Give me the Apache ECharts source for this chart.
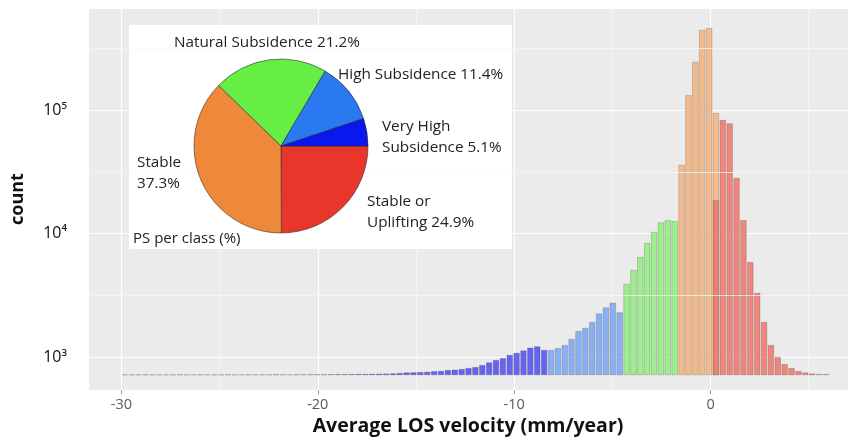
<!DOCTYPE html>
<html>
<head>
<meta charset="utf-8">
<script src="https://cdn.jsdelivr.net/npm/echarts@6/dist/echarts.min.js"></script>
<style>
  html, body { margin: 0; padding: 0; background: #ffffff; }
  #chart { width: 853px; height: 439px; }
</style>
</head>
<body>
<div id="chart"></div>
<script>
// Histogram bins of average LOS velocity (mm/year)
const BIN_START = -30;
const BIN_WIDTH = 0.35;

// Point counts per bin, one array per PS class (first bin index alongside)
const veryHighStart = 0;
const veryHighCounts = [
  722, 721, 722, 723, 721, 722, 722, 721, 723, 722,
  722, 723, 722, 721, 722, 723, 722, 722, 723, 722,
  723, 722, 724, 723, 722, 724, 723, 724, 725, 724,
  726, 727, 726, 728, 729, 730, 731, 733, 735, 738, 742,
  750, 752, 756, 760, 768, 772, 785, 790, 800, 815,
  830, 861, 905, 946, 980, 1040, 1080, 1130, 1190, 1220, 1140
];
const highStart = 62;
const highCounts = [1140, 1180, 1250, 1400, 1620, 1720, 1920, 2250, 2520, 2750, 2300];
const naturalStart = 73;
const naturalCounts = [3900, 5060, 6470, 8380, 10300, 12300, 12840, 12600];
const stableStart = 81;
const stableCounts = [36000, 132000, 245000, 445000, 461000, 94500];
const upliftStart = 86;
const upliftCounts = [18650, 83000, 78000, 28200, 12840, 5870, 3300, 1920, 1250, 1000, 876, 815, 770, 750, 735, 728, 728];

// Share of PS per class (%), drawn clockwise from 3 o'clock
const pieClasses = ['Stable or Uplifting', 'Stable', 'Natural Subsidence', 'High Subsidence', 'Very High Subsidence'];
const pieShares = [24.9, 37.3, 21.2, 11.4, 5.1];
const pieLabelText = ['Stable or\nUplifting ', 'Stable\n', 'Natural Subsidence ', 'High Subsidence ', 'Very High\nSubsidence '];

// Axis ranges and gridline breaks
const X_MIN = -31.7, X_MAX = 7.0;
const Y_MIN = 541, Y_MAX = 670000, BAR_BASE = 714;
const Y_MINOR_BREAKS = [3162, 31623, 316228];

// Styling
const histColors = ['#4c4cf2', '#78a6f4', '#8fef7c', '#f6b279', '#ee7469'];
const pieColors = ['#e8362b', '#f0883a', '#66ee44', '#2b79ee', '#0a18f0'];
const pieLabelPos = [[367, 191], [137, 152], [174, 32], [338, 64], [382, 116]];
const FONT = 'Open Sans';
const SUP = { 2: '²', 3: '³', 4: '⁴', 5: '⁵', 6: '⁶' };

function toBins(start, counts) {
  return counts.map((c, k) => [BIN_START + BIN_WIDTH * (start + k + 0.5), c]);
}

function histSeries(name, start, counts, color) {
  return {
    name: name,
    type: 'bar',
    data: toBins(start, counts),
    barWidth: 6.2,
    barGap: '-100%',
    z: 2,
    silent: true,
    itemStyle: {
      color: color,
      opacity: 0.85,
      borderColor: 'rgba(60,60,60,0.45)',
      borderWidth: 0.6
    }
  };
}

const chart = echarts.init(document.getElementById('chart'), null, { renderer: 'canvas' });

chart.setOption({
  animation: false,
  backgroundColor: '#ffffff',
  textStyle: { fontFamily: FONT },
  grid: {
    left: 88, right: 5, top: 8, bottom: 49,
    outerBoundsMode: 'none',
    containLabel: false,
    show: true, backgroundColor: '#ebebeb', borderWidth: 0
  },
  xAxis: {
    type: 'value',
    min: X_MIN, max: X_MAX,
    axisLine: { show: false },
    axisTick: { show: true, length: 4, lineStyle: { color: '#999' } },
    axisLabel: { showMinLabel: false, showMaxLabel: false, color: '#5a5a5a', fontSize: 14.5, margin: 7, fontFamily: FONT },
    splitLine: { show: true, lineStyle: { color: '#ffffff', width: 1.2 } },
    minorTick: { show: false, splitNumber: 2 },
    minorSplitLine: { show: true, lineStyle: { color: '#f6f6f6', width: 0.7 } },
    name: 'Average LOS velocity (mm/year)',
    nameLocation: 'middle',
    nameGap: 20,
    nameTextStyle: { fontSize: 19.5, fontWeight: 'bold', color: '#111', fontFamily: FONT }
  },
  yAxis: {
    type: 'log',
    logBase: 10,
    min: Y_MIN, max: Y_MAX,
    startValue: BAR_BASE,
    axisLine: { show: false },
    axisTick: { show: true, length: 4, lineStyle: { color: '#999' } },
    axisLabel: {
      showMinLabel: false, showMaxLabel: false,
      color: '#111', fontSize: 16, margin: 21, fontFamily: FONT,
      formatter: v => '10' + (SUP[Math.round(Math.log10(v))] || '')
    },
    splitLine: { show: true, lineStyle: { color: '#ffffff', width: 1.2 } },
    name: 'count',
    nameLocation: 'middle',
    nameGap: 61,
    nameTextStyle: { fontSize: 18, fontWeight: 'bold', color: '#111', fontFamily: FONT }
  },
  graphic: [
    {
      type: 'rect', z: 3,
      shape: { x: 129, y: 25, width: 383, height: 224 },
      style: { fill: '#ffffff' }
    },
    {
      type: 'text', z: 6, left: 133, top: 231,
      style: { text: 'PS per class (%)', fontSize: 15, fill: '#222', fontFamily: FONT }
    }
  ],
  series: [
    {
      type: 'line', data: [], z: 1, silent: true,
      markLine: {
        silent: true, symbol: 'none', label: { show: false },
        lineStyle: { color: '#f6f6f6', width: 0.7, type: 'solid' },
        data: Y_MINOR_BREAKS.map(v => ({ yAxis: v }))
      }
    },
    histSeries('Very High Subsidence', veryHighStart, veryHighCounts, histColors[0]),
    histSeries('High Subsidence', highStart, highCounts, histColors[1]),
    histSeries('Natural Subsidence', naturalStart, naturalCounts, histColors[2]),
    histSeries('Stable', stableStart, stableCounts, histColors[3]),
    histSeries('Stable or Uplifting', upliftStart, upliftCounts, histColors[4]),
    {
      type: 'pie',
      z: 5,
      center: [281, 146],
      radius: 87,
      startAngle: 0,
      clockwise: true,
      silent: true,
      data: pieClasses.map((n, i) => ({ name: n, value: pieShares[i], itemStyle: { color: pieColors[i] } })),
      itemStyle: { borderColor: 'rgba(40,40,40,0.7)', borderWidth: 0.8 },
      label: {
        show: true,
        fontSize: 15.3,
        lineHeight: 21,
        color: '#222',
        fontFamily: FONT,
        formatter: p => pieLabelText[p.dataIndex] + p.value.toFixed(1) + '%'
      },
      labelLine: { show: false },
      labelLayout: p => ({
        x: pieLabelPos[p.dataIndex][0],
        y: pieLabelPos[p.dataIndex][1],
        align: 'left',
        verticalAlign: 'top'
      })
    }
  ]
});
</script>
</body>
</html>
